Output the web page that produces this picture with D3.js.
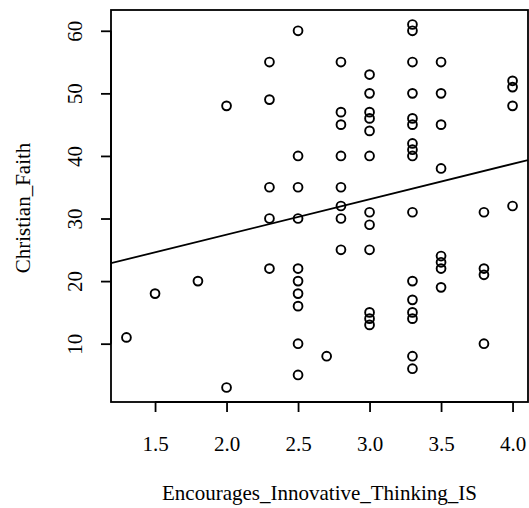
<!DOCTYPE html>
<html>
<head>
<meta charset="utf-8">
<script src="https://cdn.jsdelivr.net/npm/d3@7"></script>
<style>
  html, body { margin: 0; padding: 0; background: #fff; }
  svg { display: block; }
  svg text { font-family: "Liberation Serif", "Times New Roman", Times, serif !important; fill: #000; }
</style>
</head>
<body>
<svg id="chart" width="529" height="508"></svg>
<script>
const innovativeThinking = [
  2.5, 2.3, 2.3, 2.0, 2.5, 2.3, 2.5,
  3.3, 3.3, 2.8, 3.3, 3.5, 3.0, 3.0, 3.3, 3.5, 4.0, 4.0, 4.0,
  2.8, 2.8, 3.0, 3.0, 3.0, 3.3, 3.3, 3.5, 3.3, 3.3, 3.3, 2.8, 3.0, 3.5, 2.8,
  2.3, 2.5, 2.3, 2.5, 2.5, 2.5, 2.5, 1.8, 1.5, 1.3, 2.5, 2.5, 2.0,
  2.8, 2.8, 3.0, 3.0, 3.3, 3.8, 4.0, 2.8, 3.0, 3.5, 3.5, 3.5, 3.8, 3.8,
  3.3, 3.5, 3.3, 3.0, 3.0, 3.0, 3.3, 3.3, 3.8, 2.7, 3.3, 3.3
];
const christianFaith = [
  60, 55, 49, 48, 40, 35, 35,
  61, 60, 55, 55, 55, 53, 50, 50, 50, 52, 51, 48,
  47, 45, 47, 46, 44, 46, 45, 45, 42, 41, 40, 40, 40, 38, 35,
  30, 30, 22, 22, 20, 18, 16, 20, 18, 11, 10, 5, 3,
  32, 30, 31, 29, 31, 31, 32, 25, 25, 24, 23, 22, 22, 21,
  20, 19, 17, 15, 14, 13, 15, 14, 10, 8, 8, 6
];
// fitted line: intercept, slope
const fitCoef = [16.12, 5.655];
const xTicks = [1.5, 2.0, 2.5, 3.0, 3.5, 4.0];
const yTicks = [10, 20, 30, 40, 50, 60];
const xLabel = "Encourages_Innovative_Thinking_IS";
const yLabel = "Christian_Faith";

const FONT = '"Liberation Serif", "Times New Roman", Times, serif';
const FS = "21px";

const svg = d3.select("#chart");
const box = {left: 111, right: 528, top: 10, bottom: 402};

const x = d3.scaleLinear().domain([1.192, 4.108]).range([box.left, box.right]);
const y = d3.scaleLinear().domain([0.68, 63.32]).range([box.bottom, box.top]);

// points
svg.append("g").selectAll("circle")
  .data(innovativeThinking.map((v, i) => [v, christianFaith[i]]))
  .join("circle")
  .attr("cx", d => x(d[0]))
  .attr("cy", d => y(d[1]))
  .attr("r", 4.4)
  .attr("fill", "none")
  .attr("stroke", "#000")
  .attr("stroke-width", 1.9);

// regression line, clipped to plot region
svg.append("clipPath").attr("id", "clip")
  .append("rect").attr("x", box.left).attr("y", box.top)
  .attr("width", box.right - box.left).attr("height", box.bottom - box.top);
const xd = x.domain();
svg.append("line")
  .attr("clip-path", "url(#clip)")
  .attr("x1", x(xd[0])).attr("y1", y(fitCoef[0] + fitCoef[1] * xd[0]))
  .attr("x2", x(xd[1])).attr("y2", y(fitCoef[0] + fitCoef[1] * xd[1]))
  .attr("stroke", "#000").attr("stroke-width", 1.8);

// box
svg.append("rect")
  .attr("x", box.left).attr("y", box.top)
  .attr("width", box.right - box.left).attr("height", box.bottom - box.top)
  .attr("fill", "none").attr("stroke", "#000").attr("stroke-width", 1.8);

// x axis
const xAxis = svg.append("g")
  .attr("transform", `translate(0,${box.bottom})`)
  .call(d3.axisBottom(x).tickValues(xTicks).tickFormat(d3.format(".1f")).tickSizeInner(10).tickSizeOuter(0).tickPadding(0));
xAxis.attr("font-family", FONT).attr("font-size", FS);
xAxis.select(".domain").attr("d", `M${x(xTicks[0])},0H${x(xTicks[xTicks.length-1])}`).attr("stroke-width", 1.8);
xAxis.selectAll(".tick line").attr("stroke-width", 1.8);
xAxis.selectAll("text").attr("y", 48.5).attr("dy", null).attr("fill", "#000");

// y axis
const yAxis = svg.append("g")
  .attr("transform", `translate(${box.left},0)`)
  .call(d3.axisLeft(y).tickValues(yTicks).tickSizeInner(10).tickSizeOuter(0).tickPadding(0));
yAxis.attr("font-family", FONT).attr("font-size", FS);
yAxis.select(".domain").attr("d", `M0,${y(yTicks[0])}V${y(yTicks[yTicks.length-1])}`).attr("stroke-width", 1.8);
yAxis.selectAll(".tick line").attr("stroke-width", 1.8);
yAxis.selectAll("text")
  .attr("x", null).attr("dy", null)
  .attr("text-anchor", "middle")
  .attr("transform", "translate(-29,0) rotate(-90)")
  .attr("fill", "#000");

// axis titles
svg.append("text")
  .attr("x", (box.left + box.right) / 2).attr("y", 500)
  .attr("text-anchor", "middle")
  .attr("font-family", FONT).attr("font-size", FS)
  .text(xLabel);
svg.append("text")
  .attr("transform", `translate(30,208) rotate(-90)`)
  .attr("text-anchor", "middle")
  .attr("font-family", FONT).attr("font-size", FS)
  .text(yLabel);
</script>
</body>
</html>
